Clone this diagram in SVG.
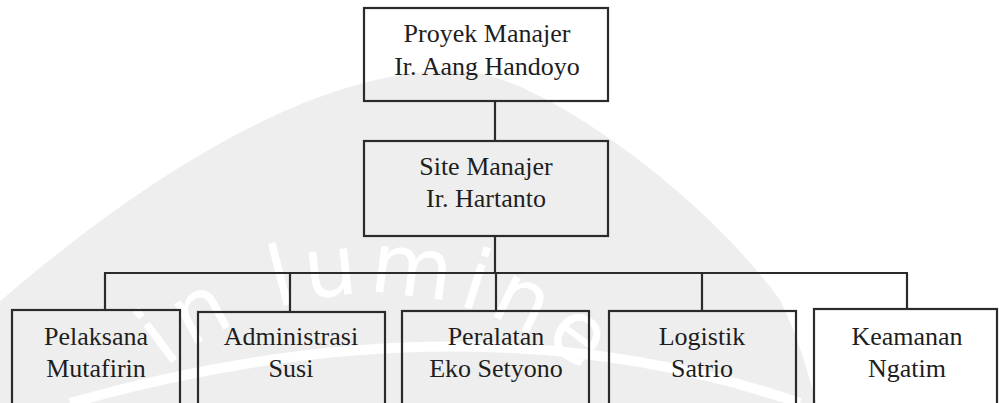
<svg xmlns="http://www.w3.org/2000/svg" width="999" height="403" viewBox="0 0 999 403">
  <style>
    .box { fill: none; stroke: #2b2b2b; stroke-width: 2.2; }
    .conn { fill: none; stroke: #2b2b2b; stroke-width: 2.2; }
    .lbl { font-family: "Liberation Serif", "Times New Roman", serif; font-size: 26px; fill: #1e1e1e; text-anchor: middle; }
    .wm { font-family: "DejaVu Sans", "Liberation Sans", sans-serif; font-size: 84px; fill: #ffffff; letter-spacing: 8px; }
  </style>
  <defs>
    <path id="wmArc" d="M 165,368 A 325 325 0 0 1 640,435"/>
  </defs>
  <rect x="0" y="0" width="999" height="403" fill="#ffffff"/>
  <g id="watermark">
    <path d="M -10,310 C 150,170 330,60 470,72 C 540,78 700,190 780,300 C 795,330 808,370 816,403 L -10,403 Z" fill="#eeeeee"/>
    <path d="M 70,403 Q 470,290 800,403" fill="none" stroke="#ffffff" stroke-width="10"/>
    <text class="wm"><textPath href="#wmArc">in lumine</textPath></text>
  </g>
  <g id="connectors">
    <line class="conn" x1="495" y1="101" x2="495" y2="141"/>
    <line class="conn" x1="495" y1="236" x2="495" y2="273"/>
    <line class="conn" x1="104" y1="273" x2="908" y2="273"/>
    <line class="conn" x1="105" y1="273" x2="105" y2="310"/>
    <line class="conn" x1="290" y1="273" x2="290" y2="312"/>
    <line class="conn" x1="496" y1="273" x2="496" y2="311"/>
    <line class="conn" x1="702" y1="273" x2="702" y2="311"/>
    <line class="conn" x1="907" y1="273" x2="907" y2="309"/>
  </g>
  <g id="proyek-manajer">
    <rect class="box" x="364" y="8" width="244" height="93"/>
    <text class="lbl" x="487" y="42">Proyek Manajer</text>
    <text class="lbl" x="487" y="75">Ir. Aang Handoyo</text>
  </g>
  <g id="site-manajer">
    <rect class="box" x="364" y="141" width="244" height="95"/>
    <text class="lbl" x="486" y="175">Site Manajer</text>
    <text class="lbl" x="486" y="207">Ir. Hartanto</text>
  </g>
  <g id="pelaksana">
    <rect class="box" x="12" y="310" width="168" height="110"/>
    <text class="lbl" x="96" y="345">Pelaksana</text>
    <text class="lbl" x="96" y="377">Mutafirin</text>
  </g>
  <g id="administrasi">
    <rect class="box" x="198" y="312" width="187" height="110"/>
    <text class="lbl" x="291" y="345">Administrasi</text>
    <text class="lbl" x="291" y="377">Susi</text>
  </g>
  <g id="peralatan">
    <rect class="box" x="402" y="311" width="187" height="110"/>
    <text class="lbl" x="496" y="345">Peralatan</text>
    <text class="lbl" x="496" y="377">Eko Setyono</text>
  </g>
  <g id="logistik">
    <rect class="box" x="609" y="311" width="187" height="110"/>
    <text class="lbl" x="702" y="345">Logistik</text>
    <text class="lbl" x="702" y="377">Satrio</text>
  </g>
  <g id="keamanan">
    <rect class="box" x="814" y="309" width="183" height="110"/>
    <text class="lbl" x="907" y="345">Keamanan</text>
    <text class="lbl" x="907" y="377">Ngatim</text>
  </g>
</svg>
